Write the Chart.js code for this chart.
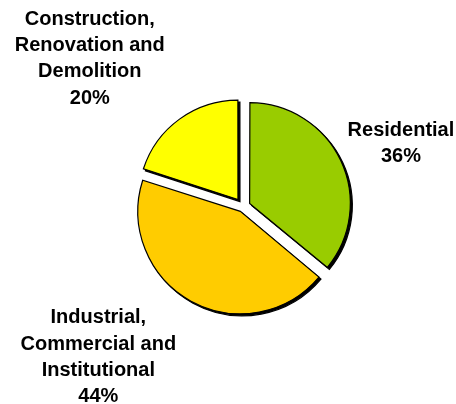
<!DOCTYPE html>
<html>
<head>
<meta charset="utf-8">
<script src="https://cdn.jsdelivr.net/npm/chart.js@4"></script>
<style>
  html, body { margin: 0; padding: 0; background: #fff; }
  #wrap { width: 456px; height: 404px; position: relative; }
</style>
</head>
<body>
<div id="wrap"><canvas id="wasteChart"></canvas></div>
<script>
// waste sources, clockwise from 12 o'clock
const categories = [
    ["Residential"],
    ["Industrial,", "Commercial and", "Institutional"],
    ["Construction,", "Renovation and", "Demolition"]
];
const shares = [36, 44, 20];
const sliceColors = ['#99CC00', '#FFCC00', '#FFFF00'];

// chart.js v4 pulls a slice out by offset/4 * (1 + (1 - sin(sweep))), so these give ~9px each
const sliceOffsets = [29.3, 22.1, 34.3];

// where each label sits: distance from pie centre and a turn (deg) off the slice middle
const labelPlacement = [
    { dist: 170, turn: 3.5 },
    { dist: 209, turn: 15 },
    { dist: 213, turn: -10 }
];

// hard black drop shadow: draw every slice once in black, nudged down-right, before the real pass
const dropShadow = {
    id: 'dropShadow',
    beforeDatasetsDraw(chart) {
        const ctx = chart.ctx;
        const arcs = chart.getDatasetMeta(0).data;
        ctx.save();
        ctx.translate(2, 2);
        arcs.forEach(function(arc) {
            const saved = arc.options;
            arc.options = Object.assign({}, saved, { backgroundColor: '#000', borderColor: '#000' });
            arc.draw(ctx);
            arc.options = saved;
        });
        ctx.restore();
    }
};

const sliceLabels = {
    id: 'sliceLabels',
    afterDraw(chart) {
        const ctx = chart.ctx;
        const arcs = chart.getDatasetMeta(0).data;
        ctx.save();
        ctx.font = 'bold 20px "Liberation Sans", Arial, sans-serif';
        ctx.fillStyle = '#000';
        ctx.textAlign = 'center';
        ctx.textBaseline = 'middle';
        arcs.forEach(function(arc, i) {
            const p = arc.getProps(['x', 'y', 'startAngle', 'endAngle']);
            const mid = (p.startAngle + p.endAngle) / 2 + labelPlacement[i].turn * Math.PI / 180;
            const cx = p.x + Math.cos(mid) * labelPlacement[i].dist;
            const cy = p.y + Math.sin(mid) * labelPlacement[i].dist;
            const lines = categories[i].concat([shares[i] + '%']);
            const lh = 26.3;
            const top = cy - (lines.length - 1) * lh / 2;
            lines.forEach(function(t, j) {
                ctx.fillText(t, cx, top + j * lh);
            });
        });
        ctx.restore();
    }
};

new Chart(document.getElementById('wasteChart').getContext('2d'), {
    type: 'pie',
    data: {
        labels: categories.map(function(c) { return c.join(' '); }),
        datasets: [{
            data: shares,
            backgroundColor: sliceColors,
            borderColor: '#000',
            borderWidth: 1.2,
            borderJoinStyle: 'miter',
            offset: sliceOffsets
        }]
    },
    options: {
        responsive: true,
        maintainAspectRatio: false,
        animation: false,
        events: [],
        radius: 99,
        layout: { padding: { left: 30, right: 0, top: 9, bottom: 0 } },
        plugins: {
            legend: { display: false },
            tooltip: { enabled: false }
        }
    },
    plugins: [dropShadow, sliceLabels]
});
</script>
</body>
</html>
